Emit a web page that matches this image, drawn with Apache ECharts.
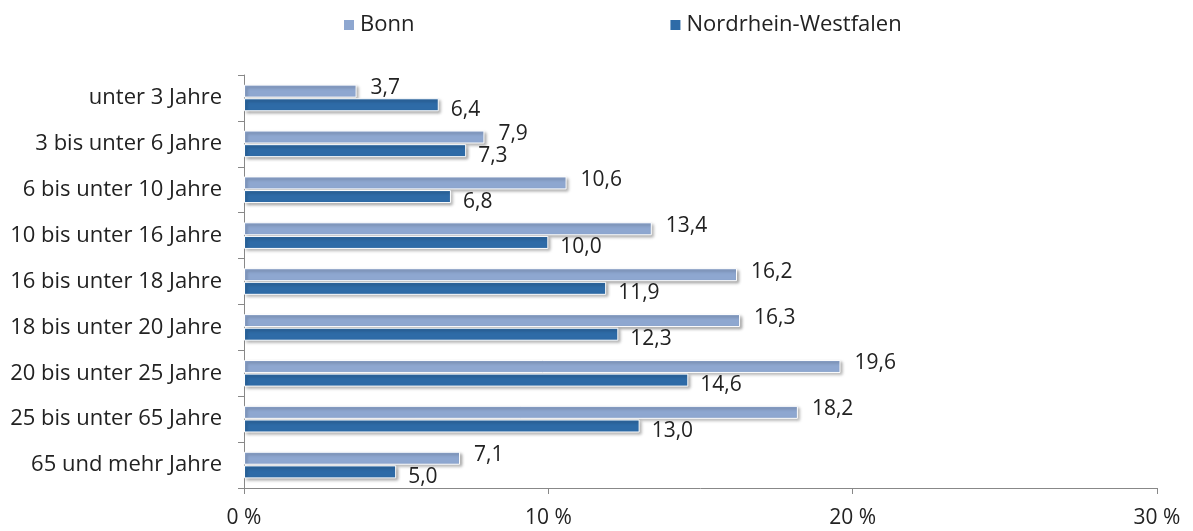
<!DOCTYPE html>
<html>
<head>
<meta charset="utf-8">
<script src="https://cdn.jsdelivr.net/npm/echarts@6/dist/echarts.min.js"></script>
<style>
  html, body { margin: 0; padding: 0; background: #fff; }
  #chart { width: 1193px; height: 531px; }
</style>
</head>
<body>
<div id="chart"></div>
<script>
const categories = [
  'unter 3 Jahre',
  '3 bis unter 6 Jahre',
  '6 bis unter 10 Jahre',
  '10 bis unter 16 Jahre',
  '16 bis unter 18 Jahre',
  '18 bis unter 20 Jahre',
  '20 bis unter 25 Jahre',
  '25 bis unter 65 Jahre',
  '65 und mehr Jahre'
];
const bonn = [3.7, 7.9, 10.6, 13.4, 16.2, 16.3, 19.6, 18.2, 7.1];
const nrw = [6.4, 7.3, 6.8, 10.0, 11.9, 12.3, 14.6, 13.0, 5.0];

const font = '"Open Sans", Lato, sans-serif';
const fmt = p => p.value.toFixed(1).replace('.', ',');

const chart = echarts.init(document.getElementById('chart'));

const barStyle = color => ({
  color: color,
  borderColor: '#ffffff',
  borderWidth: 1,
  shadowColor: 'rgba(0,0,0,0.35)',
  shadowBlur: 3,
  shadowOffsetX: 2,
  shadowOffsetY: 2
});

chart.setOption({
  backgroundColor: '#ffffff',
  animation: false,
  legend: {
    top: 9,
    left: 337,
    itemWidth: 12,
    itemHeight: 12,
    itemGap: 254,
    icon: 'rect',
    textStyle: { fontFamily: font, fontSize: 22, color: '#222' },
    data: ['Bonn', 'Nordrhein-Westfalen']
  },
  grid: { left: 244, right: 36, top: 75, bottom: 43 },
  xAxis: {
    type: 'value',
    min: 0,
    max: 30,
    interval: 10,
    axisLine: { show: true, lineStyle: { color: '#888' } },
    axisTick: { show: true, length: 6, lineStyle: { color: '#888' } },
    splitLine: { show: false },
    axisLabel: {
      formatter: '{value} %',
      fontFamily: font,
      fontSize: 21,
      color: '#222',
      margin: 20
    }
  },
  yAxis: {
    type: 'category',
    inverse: true,
    data: categories,
    axisLine: { show: true, lineStyle: { color: '#888' } },
    axisTick: { show: true, length: 6, lineStyle: { color: '#888' } },
    axisLabel: { fontFamily: font, fontSize: 22, color: '#222', margin: 22 }
  },
  series: [
    {
      name: 'Bonn',
      type: 'bar',
      data: bonn,
      barWidth: 13,
      barGap: '5%',
      itemStyle: barStyle('#8EA7D0'),
      label: {
        show: true,
        position: 'right',
        distance: 14,
        offset: [0, -3],
        formatter: fmt,
        fontFamily: font,
        fontSize: 21,
        color: '#222'
      }
    },
    {
      name: 'Nordrhein-Westfalen',
      type: 'bar',
      data: nrw,
      barWidth: 13,
      itemStyle: barStyle('#2E6BA7'),
      label: {
        show: true,
        position: 'right',
        distance: 12,
        offset: [0, 5],
        formatter: fmt,
        fontFamily: font,
        fontSize: 21,
        color: '#222'
      }
    }
  ]
});
</script>
</body>
</html>
